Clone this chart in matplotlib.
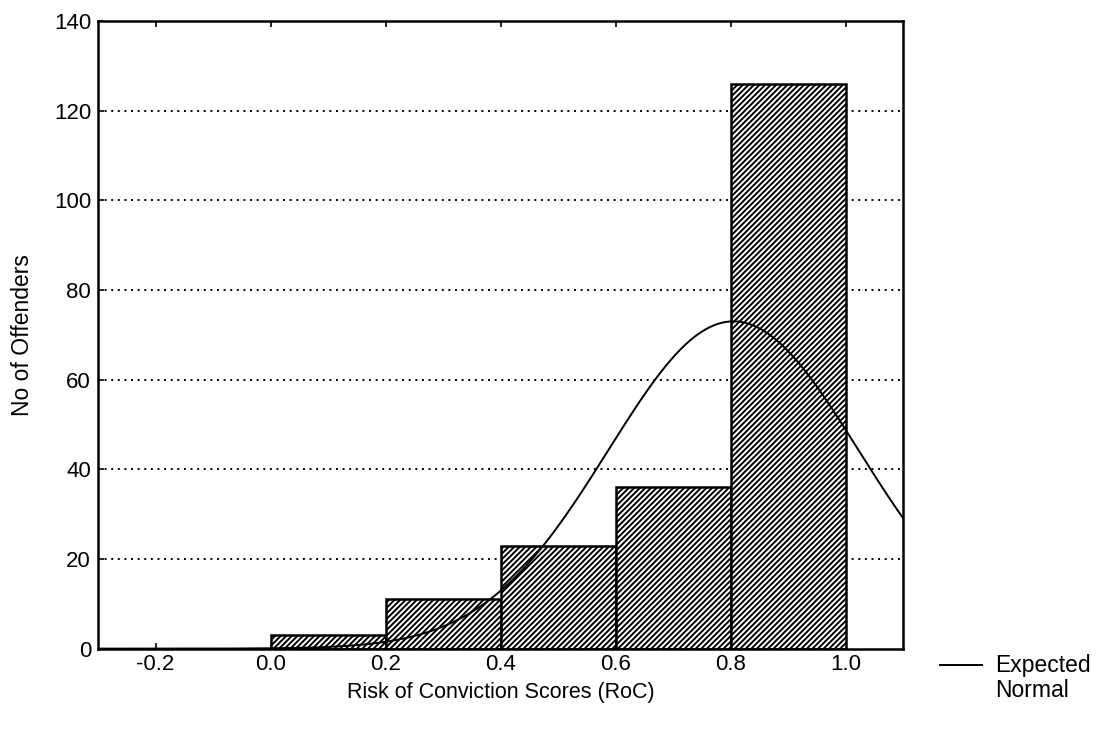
import numpy as np
import matplotlib
matplotlib.use("Agg")
import matplotlib.pyplot as plt
from matplotlib.lines import Line2D

plt.rcParams['font.family'] = ['Liberation Sans', 'DejaVu Sans']
plt.rcParams['hatch.linewidth'] = 1.4

# Data
bin_left = [0.0, 0.2, 0.4, 0.6, 0.8]
counts = [3, 11, 23, 36, 126]
bin_width = 0.2
# Expected normal fit parameters
norm_mean = 0.805
norm_sd = 0.2175
n_total = sum(counts)
x_ticks = [-0.2, 0.0, 0.2, 0.4, 0.6, 0.8, 1.0]
x_ticklabels = ["-0.2", "0.0", "0.2", "0.4", "0.6", "0.8", "1.0"]
y_ticks = [0, 20, 40, 60, 80, 100, 120, 140]

fig = plt.figure(figsize=(11.04, 7.31), dpi=100)
ax = fig.add_axes([0.0888, 0.1127, 0.7292, 0.8586])

# grid lines
for yv in y_ticks[1:-1]:
    ax.axhline(yv, color='black', lw=1.4, ls=(0, (1, 2.4)), zorder=1)

ax.bar(bin_left, counts, width=bin_width, align='edge', facecolor='white',
       edgecolor='black', hatch='//////', linewidth=1.8, zorder=2)

xs = np.linspace(-0.3, 1.1, 400)
ys = n_total * bin_width / (norm_sd * np.sqrt(2 * np.pi)) * np.exp(-0.5 * ((xs - norm_mean) / norm_sd) ** 2)
ax.plot(xs, ys, color='black', lw=1.4, zorder=3)

ax.set_xlim(-0.3, 1.1)
ax.set_ylim(0, 140)
ax.set_xticks(x_ticks)
ax.set_xticklabels(x_ticklabels)
ax.set_yticks(y_ticks)
ax.tick_params(direction='in', length=4, width=1.2, top=True, right=False,
               labelsize=16)
ax.tick_params(axis='x', pad=4)
ax.tick_params(axis='y', pad=5)
for s in ax.spines.values():
    s.set_linewidth(1.8)

ax.set_xlabel("Risk of Conviction Scores (RoC)", fontsize=15.5, labelpad=5)
ax.set_ylabel("No of Offenders", fontsize=16.5, labelpad=14)

# legend drawn at the right, outside the axes
fig.add_artist(Line2D([940 / 1104, 982 / 1104], [1 - 665 / 731, 1 - 665 / 731],
                      color='black', lw=1.4))
fig.text(995 / 1104, 1 - 654 / 731, "Expected\nNormal", fontsize=16.5,
         va='top', ha='left', linespacing=1.1)

fig.savefig("out.png", dpi=100)
